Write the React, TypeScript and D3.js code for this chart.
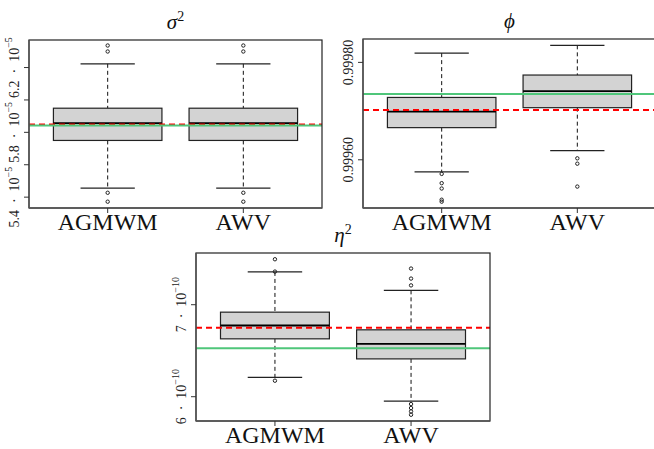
import * as React from "react";
import { useRef, useEffect } from "react";
import * as d3 from "d3";

const methods = ["AGMWM", "AWV"];

// [lower whisker, Q1, median, Q3, upper whisker] per method
const sigma2Stats = [
  [5.456e-5, 5.75e-5, 5.857e-5, 5.949e-5, 6.223e-5],
  [5.456e-5, 5.75e-5, 5.857e-5, 5.949e-5, 6.223e-5],
];
const sigma2Outliers = [
  [5.372e-5, 5.427e-5, 6.299e-5, 6.336e-5],
  [5.372e-5, 5.427e-5, 6.299e-5, 6.336e-5],
];
const sigma2Ref = { truth: 5.848e-5, mean: 5.843e-5 };
const sigma2Ticks = [5.4e-5, 5.6e-5, 5.8e-5, 6.0e-5, 6.2e-5];
const sigma2TickLabels = [["5.4", "−5"], null, ["5.8", "−5"], null, ["6.2", "−5"]];

const phiStats = [
  [0.999575, 0.999666, 0.999699, 0.999728, 0.999819],
  [0.999619, 0.999707, 0.999741, 0.999774, 0.999835],
];
const phiOutliers = [
  [0.999571, 0.999552, 0.999541, 0.999518, 0.999514],
  [0.999603, 0.999592, 0.999545],
];
const phiRef = { truth: 0.999702, mean: 0.999735 };
const phiTicks = [0.9996, 0.9998];
const phiTickLabels = [["0.99960", null], ["0.99980", null]];

const eta2Stats = [
  [6.211e-10, 6.629e-10, 6.774e-10, 6.919e-10, 7.356e-10],
  [5.953e-10, 6.411e-10, 6.575e-10, 6.727e-10, 7.156e-10],
];
const eta2Outliers = [
  [6.174e-10, 7.36e-10, 7.494e-10],
  [5.92e-10, 5.877e-10, 5.84e-10, 5.804e-10, 7.21e-10, 7.284e-10, 7.393e-10],
];
const eta2Ref = { truth: 6.749e-10, mean: 6.527e-10 };
const eta2Ticks = [6e-10, 7e-10];
const eta2TickLabels = [["6", "−10"], ["7", "−10"]];

const panels = [
  { title: "σ", sup: "2", stats: sigma2Stats, outliers: sigma2Outliers, ref: sigma2Ref,
    ticks: sigma2Ticks, labels: sigma2TickLabels, domain: [5.333e-5, 6.37e-5],
    x: 29, y: 40, w: 293, h: 168 },
  { title: "ϕ", sup: null, stats: phiStats, outliers: phiOutliers, ref: phiRef,
    ticks: phiTicks, labels: phiTickLabels, domain: [0.999501, 0.999848],
    x: 363, y: 39, w: 293, h: 169 },
  { title: "η", sup: "2", stats: eta2Stats, outliers: eta2Outliers, ref: eta2Ref,
    ticks: eta2Ticks, labels: eta2TickLabels, domain: [5.736e-10, 7.562e-10],
    x: 196, y: 253, w: 294, h: 168 },
];

const serif = "'Liberation Serif', 'DejaVu Serif', serif";

export default function App() {
  const ref = useRef<SVGSVGElement | null>(null);

  useEffect(() => {
    const svg = d3.select(ref.current);
    svg.selectAll("*").remove();

    panels.forEach((p, pi) => {
      const x = d3.scaleLinear().domain([0.42, 2.58]).range([p.x, p.x + p.w]);
      const y = d3.scaleLinear().domain(p.domain).range([p.y + p.h, p.y]);
      const g = svg.append("g");

      const clipId = `clip${pi}`;
      g.append("clipPath").attr("id", clipId)
        .append("rect").attr("x", p.x).attr("y", p.y).attr("width", p.w).attr("height", p.h);

      // boxes
      p.stats.forEach((s, i) => {
        const cx = x(i + 1);
        const bw = x(1.4) - x(1);
        const cw = x(1.2) - x(1);
        const [lo, q1, med, q3, hi] = s;
        g.append("line").attr("x1", cx).attr("x2", cx).attr("y1", y(hi)).attr("y2", y(q3))
          .attr("stroke", "#111").attr("stroke-dasharray", "4,3");
        g.append("line").attr("x1", cx).attr("x2", cx).attr("y1", y(q1)).attr("y2", y(lo))
          .attr("stroke", "#111").attr("stroke-dasharray", "4,3");
        [lo, hi].forEach((v) => {
          g.append("line").attr("x1", cx - cw).attr("x2", cx + cw).attr("y1", y(v)).attr("y2", y(v))
            .attr("stroke", "#222").attr("stroke-width", 1.2);
        });
        g.append("rect").attr("x", cx - bw).attr("width", 2 * bw)
          .attr("y", y(q3)).attr("height", y(q1) - y(q3))
          .attr("fill", "#d3d3d3").attr("stroke", "#222").attr("stroke-width", 1.2);
        g.append("line").attr("x1", cx - bw).attr("x2", cx + bw).attr("y1", y(med)).attr("y2", y(med))
          .attr("stroke", "#000").attr("stroke-width", 1.8);
        p.outliers[i].forEach((v) => {
          g.append("circle").attr("cx", cx).attr("cy", y(v)).attr("r", 1.7)
            .attr("fill", "none").attr("stroke", "#222").attr("stroke-width", 1);
        });
      });

      // reference lines
      const refs = g.append("g").attr("clip-path", `url(#${clipId})`);
      refs.append("line").attr("x1", p.x).attr("x2", p.x + p.w)
        .attr("y1", y(p.ref.truth)).attr("y2", y(p.ref.truth))
        .attr("stroke", "#ff0000").attr("stroke-width", 2).attr("stroke-dasharray", "6,4");
      refs.append("line").attr("x1", p.x).attr("x2", p.x + p.w)
        .attr("y1", y(p.ref.mean)).attr("y2", y(p.ref.mean))
        .attr("stroke", "#4fc67a").attr("stroke-width", 2);

      // frame
      g.append("rect").attr("x", p.x).attr("y", p.y).attr("width", p.w).attr("height", p.h)
        .attr("fill", "none").attr("stroke", "#222").attr("stroke-width", 1.2);
      g.append("line").attr("x1", p.x).attr("x2", p.x + p.w).attr("y1", p.y + p.h).attr("y2", p.y + p.h)
        .attr("stroke", "#555").attr("stroke-width", 1.6);
      g.append("line").attr("x1", p.x).attr("x2", p.x).attr("y1", p.y).attr("y2", p.y + p.h)
        .attr("stroke", "#555").attr("stroke-width", 1.4);

      // y ticks
      p.ticks.forEach((t, ti) => {
        g.append("line").attr("x1", p.x - 5).attr("x2", p.x).attr("y1", y(t)).attr("y2", y(t))
          .attr("stroke", "#333");
        const lab = p.labels[ti];
        if (!lab) return;
        const txt = g.append("text")
          .attr("transform", `translate(${p.x - 15},${y(t)}) rotate(-90)`)
          .attr("text-anchor", "middle").attr("dominant-baseline", "central")
          .attr("font-family", serif).attr("font-size", 14).attr("fill", "#222");
        if (lab[1]) {
          txt.append("tspan").text(`${lab[0]}\u2002·\u200210`);
          txt.append("tspan").attr("dy", -6).attr("font-size", 10).text(lab[1]);
        } else {
          txt.text(lab[0]);
        }
      });

      // x ticks and labels
      methods.forEach((m, i) => {
        const cx = x(i + 1);
        g.append("line").attr("x1", cx).attr("x2", cx).attr("y1", p.y + p.h).attr("y2", p.y + p.h + 5)
          .attr("stroke", "#333");
        g.append("text").attr("x", cx).attr("y", p.y + p.h + 22)
          .attr("text-anchor", "middle").attr("font-family", serif).attr("font-size", 24)
          .attr("fill", "#111").text(m);
      });

      // title
      const title = g.append("text").attr("x", p.x + p.w / 2).attr("y", p.y - 11)
        .attr("text-anchor", "middle").attr("font-family", serif).attr("font-size", 21)
        .attr("font-style", "italic").attr("fill", "#111");
      title.append("tspan").text(p.title);
      if (p.sup) {
        title.append("tspan").attr("dy", -8).attr("font-size", 14).attr("font-style", "normal").text(p.sup);
      }
    });
  }, []);

  return (
    <svg ref={ref} width={654} height={449}
      style={{ position: "absolute", left: 0, top: 0, background: "#fff" }} />
  );
}
